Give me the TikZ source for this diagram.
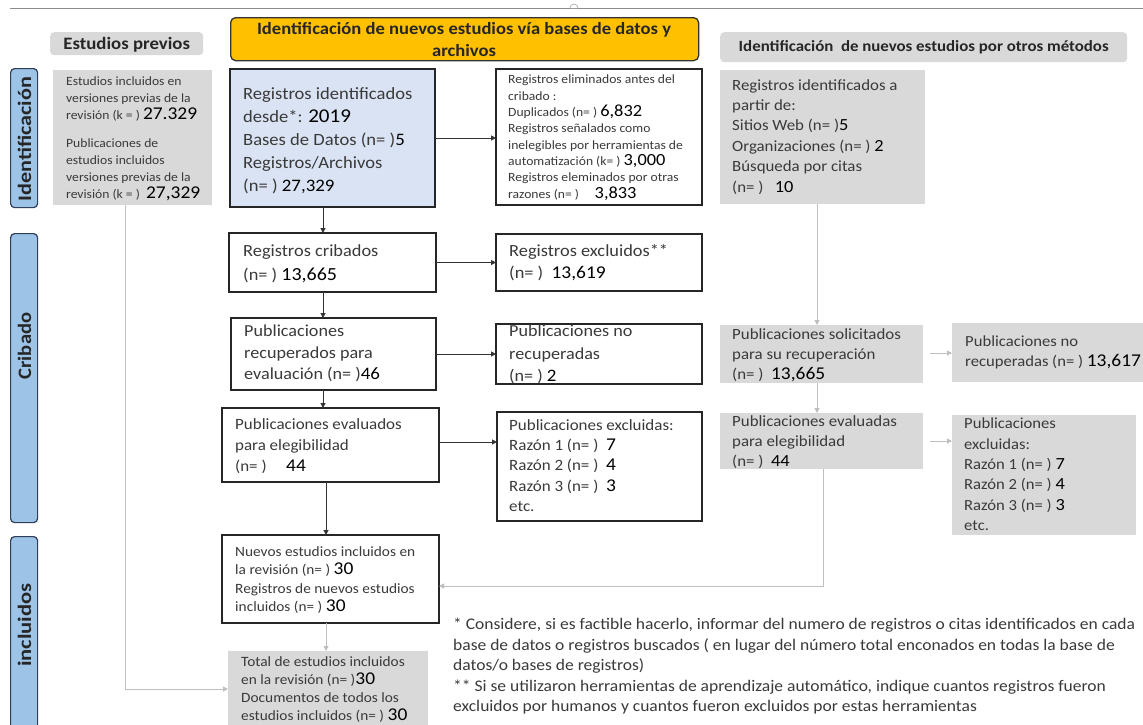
\documentclass[tikz,border=0pt]{standalone}
\usepackage{fontspec}
\usepackage{graphicx}
\setmainfont{Carlito}[FakeStretch=1.08]
\usetikzlibrary{arrows.meta,calc}
\definecolor{txt}{HTML}{3A3A3A}
\definecolor{gbox}{HTML}{D9D9D9}
\definecolor{side}{HTML}{9DC3E6}
\definecolor{sideb}{HTML}{2F3F5A}
\definecolor{bluebox}{HTML}{DAE3F3}
\definecolor{gold}{HTML}{FFC000}
\definecolor{garrow}{HTML}{BFBFBF}
\newcommand\fs[2]{\fontsize{#1}{#2}\selectfont}
\newcommand\nm[2]{{\fontsize{#1}{#1}\selectfont\color{black}#2}}
\tikzset{
  bbox/.style={draw=black!85, line width=1.3pt, fill=white, anchor=north west, inner sep=0pt, outer sep=0pt},
  gfill/.style={fill=gbox, draw=none, anchor=north west, inner sep=0pt, outer sep=0pt},
  sidebar/.style={fill=side, draw=sideb, line width=1.2pt, rounded corners=4pt, anchor=north west, inner sep=0pt},
  sidetext/.style={rotate=90, font=\bfseries\fs{19}{19}, text=black!85, inner sep=0pt},
  hdr/.style={fill=gbox, draw=none, rounded corners=4pt, anchor=north west, inner sep=0pt},
  tx/.style={anchor=north west, align=left, inner sep=0pt, text=txt},
  arr/.style={draw=black!80, line width=1pt, -{Triangle[length=5pt,width=5pt]}},
  garr/.style={draw=garrow, line width=1pt, -{Triangle[length=5pt,width=5pt]}},
}
\begin{document}
\begin{tikzpicture}[x=1pt,y=-1pt]
\useasboundingbox (0,0) rectangle (1143,724);
\clip (0,0) rectangle (1143,724);
\fill[white] (0,0) rectangle (1143,724);
% top border line
\coordinate (tl) at (10,8);
\coordinate (tr) at (1143,8);
\draw[draw=black!45, line width=0.8pt] (tl) -- (tr);
\draw[draw=black!35, fill=white, line width=0.6pt] (570,8) arc (180:360:4);

% sidebars
\node[sidebar, minimum width=27pt, minimum height=139pt] (s1) at (10,68) {};
\node[sidebar, minimum width=27pt, minimum height=289pt] (s2) at (10,233) {};
\node[sidebar, minimum width=27pt, minimum height=220pt] (s3) at (10,536) {};
\node[sidetext] (s1t) at (24.5,139) {\scalebox{1.08}[1]{Identificación}};
\node[sidetext] (s2t) at (24.5,346) {Cribado};
\node[sidetext] (s3t) at (24.5,625) {\scalebox{1.1}[1]{incluidos}};

% headers
\node[hdr, minimum width=153pt, minimum height=23pt] (hprev) at (50,32) {};
\node[font=\bfseries\fs{17.4}{17.4}, text=black!85] (hprevt) at ($(hprev.center)+(0,1)$) {Estudios previos};
\node[fill=gold, draw=black!80, line width=1.3pt, rounded corners=5pt, anchor=north west, inner sep=0pt, minimum width=468pt, minimum height=43pt] (hdb) at (230,17) {};
\node[font=\bfseries\fs{17.2}{21.5}, text=black!85, align=center] (hdbt) at (464,39.5) {Identificación de nuevos estudios vía bases de datos y\\archivos};
\node[hdr, minimum width=407pt, minimum height=30pt] (hotros) at (720,32) {};
\node[font=\bfseries\fs{15.6}{16}, text=black!85] (hotrost) at (hotros.center) {Identificación\ \ de nuevos estudios por otros métodos};

% boxes
\node[gfill, minimum width=159pt, minimum height=135pt] (prev) at (53,70) {};
\node[bbox, fill=bluebox, minimum width=205pt, minimum height=138pt] (idb) at (230,69) {};
\node[bbox, minimum width=206pt, minimum height=136pt] (elim) at (496,69) {};
\node[gfill, minimum width=205pt, minimum height=134pt] (otros) at (720,70) {};
\node[bbox, minimum width=207pt, minimum height=59pt] (crib) at (229,233) {};
\node[bbox, minimum width=206pt, minimum height=57pt] (excl) at (496,234) {};
\node[bbox, minimum width=205pt, minimum height=72pt] (recup) at (231,318) {};
\node[bbox, minimum width=206pt, minimum height=60pt] (norec) at (496,324) {};
\node[bbox, minimum width=217pt, minimum height=74pt] (evalb) at (222,408) {};
\node[bbox, minimum width=205pt, minimum height=109pt] (exclb) at (497,412) {};
\node[bbox, minimum width=217pt, minimum height=88pt] (nuevos) at (222,535) {};
\node[gfill, minimum width=200pt, minimum height=90pt] (total) at (228,651) {};
\node[gfill, minimum width=203pt, minimum height=58pt] (solic) at (720,325) {};
\node[gfill, minimum width=200pt, minimum height=59pt] (norec2) at (952,323) {};
\node[gfill, minimum width=203pt, minimum height=56pt] (eval2) at (720,413) {};
\node[gfill, minimum width=184pt, minimum height=120pt] (excl2) at (952,415) {};

% texts
\node[tx, font=\fs{12.6}{17}] (tprev) at (66,77) {Estudios incluidos en\\versiones previas de la\\revisión (k = ) \nm{18}{27.329}\\[11pt]Publicaciones de\\estudios incluidos\\versiones previas de la\\revisión (k = ) \ \nm{18}{27,329}};
\node[tx, font=\fs{17.2}{23}] (tidb) at (243,87) {Registros identificados\\desde*: \nm{19.5}{2019}\\Bases de Datos (n= )\nm{17.5}{5}\\Registros/Archivos\\(n= ) \nm{17.5}{27,329}};
\node[tx, font=\fs{12.6}{16.3}] (telim) at (508,75) {Registros eliminados antes del\\cribado :\\Duplicados (n= ) \nm{17}{6,832}\\Registros señalados como\\inelegibles por herramientas de\\automatización (k= ) \nm{17}{3,000}\\Registros eleminados por otras\\razones (n= ) \quad \nm{17}{3,833}};
\node[tx, font=\fs{15.6}{20.4}] (totros) at (732,79) {Registros identificados a\\partir de:\\Sitios Web (n= )\nm{17}{5}\\Organizaciones (n= ) \nm{17}{2}\\Búsqueda por citas\\(n= ) \ \ \nm{17}{10}};
\node[tx, font=\fs{17}{24.5}] (tcrib) at (243,244) {Registros cribados\\(n= ) \nm{18.5}{13,665}};
\node[tx, font=\fs{17}{22}] (texcl) at (509,244) {Registros excluidos**\\(n= ) \ \nm{18}{13,619}};
\node[tx, font=\fs{16.8}{21.5}] (trecup) at (244,325) {Publicaciones\\recuperados para\\evaluación (n= )\nm{17.5}{46}};
\node[tx, font=\fs{16.8}{22.5}] (tnorec) at (509,325) {Publicaciones no\\recuperadas\\(n= ) \nm{17.5}{2}};
\node[tx, font=\fs{15.7}{21}] (tevalb) at (235,418) {Publicaciones evaluados\\para elegibilidad\\(n= ) \quad\nm{18}{44}};
\node[tx, font=\fs{15.7}{20.3}] (texclb) at (509,419) {Publicaciones excluidas:\\Razón 1 (n= ) \ \nm{18}{7}\\Razón 2 (n= ) \ \nm{18}{4}\\Razón 3 (n= ) \ \nm{18}{3}\\etc.};
\node[tx, font=\fs{14.2}{18.5}] (tnuevos) at (235,546) {Nuevos estudios incluidos en\\la revisión (n= ) \nm{18}{30}\\Registros de nuevos estudios\\incluidos (n= ) \nm{18}{30}};
\node[tx, font=\fs{14.2}{18}] (ttotal) at (241,656) {Total de estudios incluidos\\en la revisión (n= )\nm{18}{30}\\Documentos de todos los\\estudios incluidos (n= ) \nm{18}{30}};
\node[tx, font=\fs{15.6}{20}] (tsolic) at (732,328) {Publicaciones solicitados\\para su recuperación\\(n= ) \ \nm{18}{13,665}};
\node[tx, font=\fs{15.4}{20}] (tnorec2) at (965,336) {Publicaciones no\\recuperadas (n= ) \nm{18}{13,617}};
\node[tx, font=\fs{15.6}{20}] (teval2) at (732,415) {Publicaciones evaluadas\\para elegibilidad\\(n= ) \ \nm{17}{44}};
\node[tx, font=\fs{15.4}{20.3}] (texcl2) at (964,418) {Publicaciones\\excluidas:\\Razón 1 (n= ) \nm{17}{7}\\Razón 2 (n= ) \nm{17}{4}\\Razón 3 (n= ) \nm{17}{3}\\etc.};
\node[tx, font=\fs{16.2}{20.5}] (foot) at (453,618) {* Considere, si es factible hacerlo, informar del numero de registros o citas identificados en cada\\base de datos o registros buscados ( en lugar del número total enconados en todas la base de\\datos/o bases de registros)\\** Si se utilizaron herramientas de aprendizaje automático, indique cuantos registros fueron\\excluidos por humanos y cuantos fueron excluidos por estas herramientas};

% connectors (black)
\coordinate (ax1) at (323,0);
\coordinate (ax2) at (326,0);
\draw[arr] (idb.south -| ax1) -- (crib.north -| ax1);
\draw[arr] (idb.east) -- (elim.west |- idb.east);
\draw[arr] (crib.east) -- (excl.west |- crib.east);
\draw[arr] (crib.south -| ax1) -- (recup.north -| ax1);
\draw[arr] (recup.east) -- (norec.west |- recup.east);
\draw[arr] (recup.south -| ax1) -- (evalb.north -| ax1);
\draw[arr] ($(evalb.east)+(0,-3)$) -- ($(evalb.east -| exclb.west)+(0,-3)$);
\draw[arr] (evalb.south -| ax2) -- (nuevos.north -| ax2);
% connectors (grey)
\coordinate (px) at (125,0);
\coordinate (py) at (0,689);
\coordinate (rx1) at (817,0);
\coordinate (rx2) at (823,0);
\coordinate (ry) at (0,586);
\draw[garr] (nuevos.south -| ax2) -- (total.north -| ax2);
\draw[garr] (prev.south -| px) |- (total.west |- py);
\draw[garr] (otros.south -| rx1) -- (solic.north -| rx1);
\draw[garr, shorten <=7pt] (solic.east |- 0,353) -- (norec2.west |- 0,353);
\draw[garr] (solic.south -| rx1) -- (eval2.north -| rx1);
\draw[garr, shorten <=7pt] (eval2.east) -- (excl2.west |- eval2.east);
\draw[garr] (eval2.south -| rx2) |- (nuevos.east |- ry);
\end{tikzpicture}
\end{document}
